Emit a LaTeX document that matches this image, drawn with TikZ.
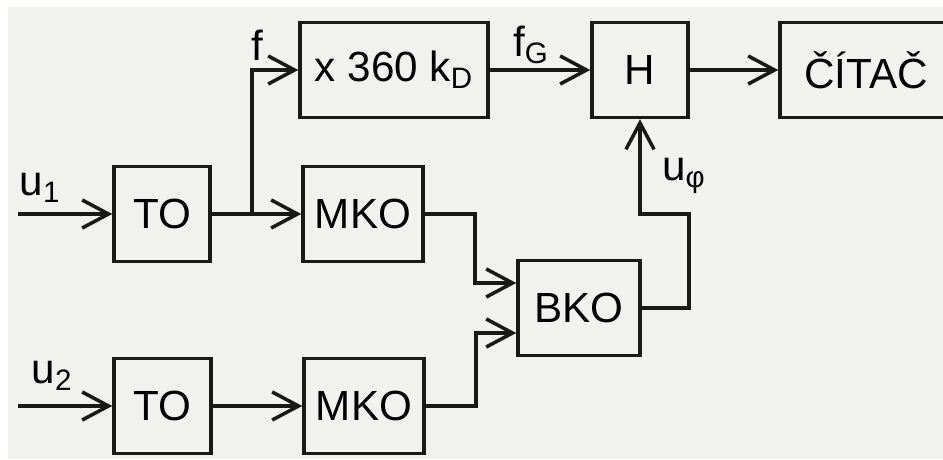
\documentclass[tikz,border=0pt]{standalone}
\usepackage{fontspec}
\setmainfont{Liberation Sans}
\usetikzlibrary{
	positioning,
	arrows.meta,
	calc
}
\definecolor{PaperGrey}{RGB}{241,241,240}
\definecolor{InkBlack}{RGB}{25,25,25}

\tikzset{
	block/.style={
		draw=InkBlack,
		line width=2pt,
		minimum height=1.9cm,
		inner sep=0pt,
		font=\fontsize{24}{28}\selectfont
	},
	signal/.style={
		draw=InkBlack,
		line width=2pt,
		-{Straight Barb[length=15pt,width=16pt,line width=2pt]}
	},
	wire/.style={
		draw=InkBlack,
		line width=2pt
	},
	sig label/.style={
		inner sep=0pt,
		font=\fontsize{24}{28}\selectfont
	}
}

\begin{document}
\begin{tikzpicture}
	
	% Paper
	\useasboundingbox (0,0) rectangle (18.86,9.18);
	\fill[white] (0,0) rectangle (18.86,9.18);
	\fill[PaperGrey] (0.16,0) rectangle (18.86,9.04);
	\clip (0,0) rectangle (18.86,9.18);
	
	% Blocks
	\node[block, minimum width=1.92cm] (TOa) at (3.24,4.9) {TO};
	\node[block, minimum width=2.4cm] (MKOa) at (7.26,4.9) {MKO};
	\node[block, minimum width=3.76cm] (mult) at (7.88,7.78) {x 360 k\textsubscript{D}};
	\node[block, minimum width=1.92cm] (H) at (12.8,7.78) {H};
	\node[block, minimum width=3.44cm] (citac) at (17.32,7.78) {ČÍTAČ};
	\node[block, minimum width=2.44cm] (BKO) at (11.58,3.02) {BKO};
	\node[block, minimum width=1.94cm] (TOb) at (3.25,1.06) {TO};
	\node[block, minimum width=2.4cm] (MKOb) at (7.28,1.06) {MKO};
	
	% Inputs
	\coordinate (ina) at (0.36,4.9);
	\coordinate (inb) at (0.36,1.06);
	\coordinate (fork) at (5.04,4.9);
	
	% Connections
	\draw[signal] (ina) -- (TOa.west);
	\draw[signal] (inb) -- (TOb.west);
	\draw[signal] (TOa.east) -- (MKOa.west);
	\draw[signal] (fork) |- (mult.west);
	\draw[signal] (TOb.east) -- (MKOb.west);
	\draw[signal] (mult.east) -- (H.west);
	\draw[signal] (H.east) -- (citac.west);
	\draw[signal]
	(MKOa.east) -- ++(1.0,0) |- ([yshift=0.5cm]BKO.west);
	\draw[signal]
	(MKOb.east) -- ++(1.0,0) |- ([yshift=-0.5cm]BKO.west);
	\draw[signal]
	(BKO.east) -- ++(0.94,0) |- ([yshift=-1.9cm]H.south) -- (H.south);
	
	% Labels
	\node[sig label] (lu1) at (0.8,5.42) {u\textsubscript{1}};
	\node[sig label] (lu2) at (1.04,1.66) {u\textsubscript{2}};
	\node[sig label] (lf) at (5.14,8.28) {f};
	\node[sig label] (lfG) at (10.62,8.28) {f\textsubscript{G}};
	\node[sig label] (luphi) at (13.68,5.66) {u\textsubscript{φ}};
	
\end{tikzpicture}
\end{document}
